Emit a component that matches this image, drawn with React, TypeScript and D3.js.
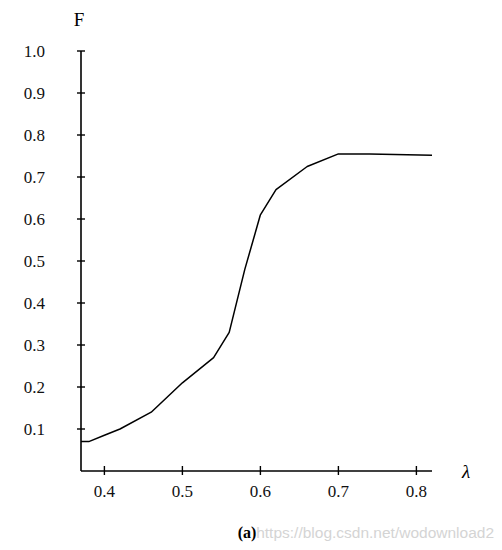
import React from "react";
import * as d3 from "d3";

const lambdaValues = [0.37, 0.38, 0.40, 0.42, 0.46, 0.50, 0.54, 0.56, 0.58, 0.60, 0.62, 0.66, 0.70, 0.74, 0.82];
const fValues = [0.07, 0.07, 0.085, 0.10, 0.14, 0.21, 0.27, 0.33, 0.48, 0.61, 0.67, 0.725, 0.755, 0.755, 0.752];
const xTicks = [0.4, 0.5, 0.6, 0.7, 0.8];
const yTicks = [0.1, 0.2, 0.3, 0.4, 0.5, 0.6, 0.7, 0.8, 0.9, 1.0];
const xDomain = [0.37, 0.82];
const yDomain = [0, 1.0];

export default function App() {
  const W = 502, H = 550;
  const x = d3.scaleLinear().domain(xDomain).range([81, 432]);
  const y = d3.scaleLinear().domain(yDomain).range([471, 51]);
  const pts = lambdaValues.map((l, i) => [l, fValues[i]] as [number, number]);
  const line = d3.line<[number, number]>().x(d => x(d[0])).y(d => y(d[1]));
  const serif = "'Liberation Serif', 'DejaVu Serif', serif";
  return (
    <svg width={W} height={H} style={{ position: "absolute", left: 0, top: 0, background: "#fff" }}>
      <rect width={W} height={H} fill="#fff" />
      {/* axes */}
      <line x1={x(xDomain[0])} x2={x(xDomain[0])} y1={y(1.0)} y2={y(0)} stroke="#000" strokeWidth={1.6} />
      <line x1={x(xDomain[0])} x2={x(xDomain[1])} y1={y(0)} y2={y(0)} stroke="#000" strokeWidth={1.6} />
      {yTicks.map(t => (
        <g key={"y" + t}>
          <line x1={x(xDomain[0]) - 4} x2={x(xDomain[0]) + 4} y1={y(t)} y2={y(t)} stroke="#000" strokeWidth={1.4} />
          <text x={45} y={y(t) + 2} textAnchor="end" dominantBaseline="middle" fontFamily={serif} fontSize={17} fill="#111">
            {t.toFixed(1)}
          </text>
        </g>
      ))}
      {xTicks.map(t => (
        <g key={"x" + t}>
          <line x1={x(t)} x2={x(t)} y1={y(0) - 5} y2={y(0) + 4} stroke="#000" strokeWidth={1.4} />
          <text x={x(t)} y={497} textAnchor="middle" fontFamily={serif} fontSize={17} fill="#111">
            {t.toFixed(1)}
          </text>
        </g>
      ))}
      <text x={79} y={26} textAnchor="middle" fontFamily={serif} fontSize={19} fill="#000">F</text>
      <text x={466} y={478} textAnchor="middle" fontFamily={serif} fontStyle="italic" fontSize={19} fill="#000">λ</text>
      {/* curve */}
      <path d={line(pts) || ""} fill="none" stroke="#000" strokeWidth={1.5} strokeLinejoin="round" />
      <text x={494} y={538} textAnchor="end" fontFamily="'Liberation Sans', Arial, sans-serif" fontSize={15.5} fill="#d4d4d4">
        https://blog.csdn.net/wodownload2
      </text>
      <text x={247} y={538} textAnchor="middle" fontFamily={serif} fontWeight="bold" fontSize={16} fill="#000">(a)</text>
    </svg>
  );
}
